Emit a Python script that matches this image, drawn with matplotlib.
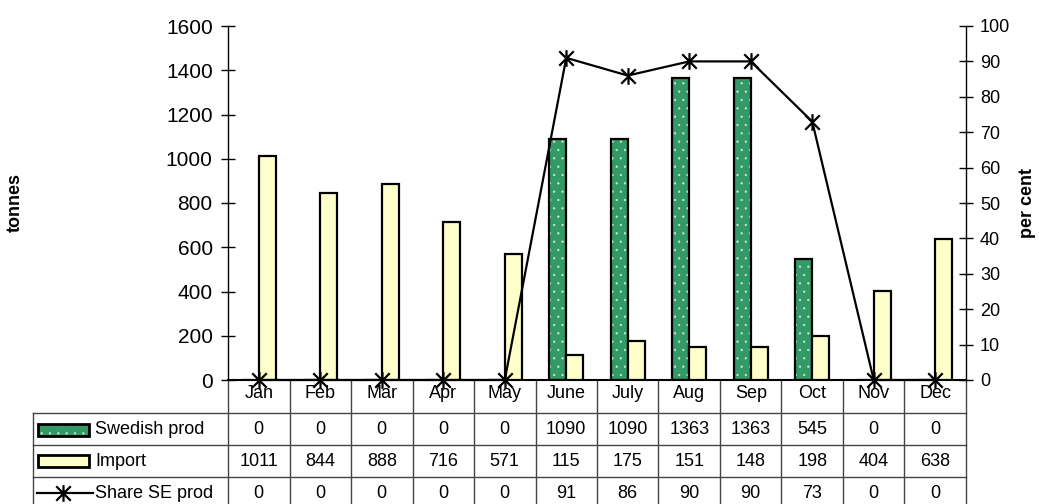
import numpy as np
import matplotlib
matplotlib.use("Agg")
import matplotlib.pyplot as plt
from matplotlib.path import Path
from matplotlib.patches import Rectangle
from matplotlib.lines import Line2D
from matplotlib.transforms import blended_transform_factory

plt.rcParams['font.family'] = ['Liberation Sans', 'DejaVu Sans']
plt.rcParams['hatch.linewidth'] = 0.4

months = ['Jan', 'Feb', 'Mar', 'Apr', 'May', 'June', 'July', 'Aug', 'Sep', 'Oct', 'Nov', 'Dec']
swedish = [0, 0, 0, 0, 0, 1090, 1090, 1363, 1363, 545, 0, 0]
imports = [1011, 844, 888, 716, 571, 115, 175, 151, 148, 198, 404, 638]
share = [0, 0, 0, 0, 0, 91, 86, 90, 90, 73, 0, 0]

green = '#339966'
yellow = '#FFFFCC'
dots = '#cfe8d8'
fs = 13

# asterisk marker: X plus a vertical bar
star = Path([(-1, -1), (1, 1), (-1, 1), (1, -1), (0, -1.15), (0, 1.15)],
            [Path.MOVETO, Path.LINETO, Path.MOVETO, Path.LINETO, Path.MOVETO, Path.LINETO])

fig = plt.figure(figsize=(10.39, 5.04), dpi=100)
W, H = 1039, 504
x0, x1, y0, y1 = 228, 966, 380, 26
ax = fig.add_axes([x0 / W, (H - y0) / H, (x1 - x0) / W, (y0 - y1) / H])

x = np.arange(len(months))
bw = 0.28
# green bars: light dotted hatch, then black outline on top
ax.bar(x - bw / 2, swedish, bw, color=green, edgecolor=dots, hatch='..', linewidth=0, zorder=2)
ax.bar(x - bw / 2, swedish, bw, fill=False, edgecolor='black', linewidth=1.6, zorder=3)
ax.bar(x + bw / 2, imports, bw, color=yellow, edgecolor='black', linewidth=1.6, zorder=3)

ax.set_xlim(-0.5, 11.5)
ax.set_ylim(0, 1600)
ax.set_yticks(range(0, 1601, 200))
ax.set_xticks([])
ax.tick_params(axis='y', direction='inout', length=10, width=1, labelsize=15, pad=6)
for s in ['top', 'right']:
    ax.spines[s].set_visible(False)
ax.spines['left'].set_linewidth(1)
ax.spines['bottom'].set_linewidth(1.5)

ax2 = ax.twinx()
ax2.plot(x, share, color='black', linewidth=1.6, marker=star, markersize=12,
         markeredgewidth=1.6, clip_on=False, zorder=4)
ax2.set_ylim(0, 100)
ax2.set_yticks(range(0, 101, 10))
ax2.tick_params(axis='y', direction='inout', length=10, width=1, labelsize=fs, pad=5)
for s in ['top', 'left', 'bottom']:
    ax2.spines[s].set_visible(False)
ax2.spines['right'].set_linewidth(1)

fig.text(15 / W, 1 - 203 / H, 'tonnes', rotation=90, ha='center', va='center',
         fontsize=fs, fontweight='bold')
fig.text(1028 / W, 1 - 203 / H, 'per cent', rotation=90, ha='center', va='center',
         fontsize=fs, fontweight='bold')

# data table under the plot
tr = blended_transform_factory(ax.transData, ax.transAxes)
px = lambda p: -0.5 + (p - x0) / ((x1 - x0) / 12)   # pixel x -> data x
py = lambda p: (y0 - p) / (y0 - y1)                  # pixel y -> axes y

left = px(33)
rows = [py(413), py(445), py(477), py(509)]
lc = '#444444'
for r in rows:
    ax.add_line(Line2D([left, 11.5], [r, r], transform=tr,
                       color=lc, linewidth=1, clip_on=False))
for i in range(13):
    ax.add_line(Line2D([i - 0.5, i - 0.5], [0, rows[-1]], transform=tr,
                       color=lc, linewidth=1, clip_on=False))
ax.add_line(Line2D([left, left], [rows[0], rows[-1]], transform=tr,
                   color=lc, linewidth=1, clip_on=False))

row_y = [py(430), py(461), py(493)]
for i, m in enumerate(months):
    ax.text(i, py(394), m, transform=tr, ha='center', va='center', fontsize=fs)
    ax.text(i, row_y[0], str(swedish[i]), transform=tr, ha='center', va='center', fontsize=fs)
    ax.text(i, row_y[1], str(imports[i]), transform=tr, ha='center', va='center', fontsize=fs)
    ax.text(i, row_y[2], str(share[i]), transform=tr, ha='center', va='center', fontsize=fs)

kx0, kx1 = px(38), px(89)
kh = py(424) - py(436)
for r, fc, hatch in [(row_y[0], green, '..'), (row_y[1], yellow, None)]:
    ax.add_patch(Rectangle((kx0, r - kh / 2), kx1 - kx0, kh, transform=tr, facecolor=fc,
                           edgecolor=dots if hatch else 'black', hatch=hatch,
                           linewidth=0 if hatch else 2, clip_on=False))
    if hatch:
        ax.add_patch(Rectangle((kx0, r - kh / 2), kx1 - kx0, kh, transform=tr, fill=False,
                               edgecolor='black', linewidth=2, clip_on=False))
ax.add_line(Line2D([px(37), px(93)], [row_y[2], row_y[2]], transform=tr, color='black',
                   linewidth=1.6, clip_on=False))
ax.add_line(Line2D([px(63)], [row_y[2]], transform=tr, color='black', marker=star,
                   markersize=12, markeredgewidth=1.6, linestyle='none', clip_on=False))
labels = ['Swedish prod', 'Import', 'Share SE prod']
for r, t in zip(row_y, labels):
    ax.text(px(95), r, t, transform=tr, ha='left', va='center', fontsize=fs)

fig.savefig('out.png', dpi=100)
